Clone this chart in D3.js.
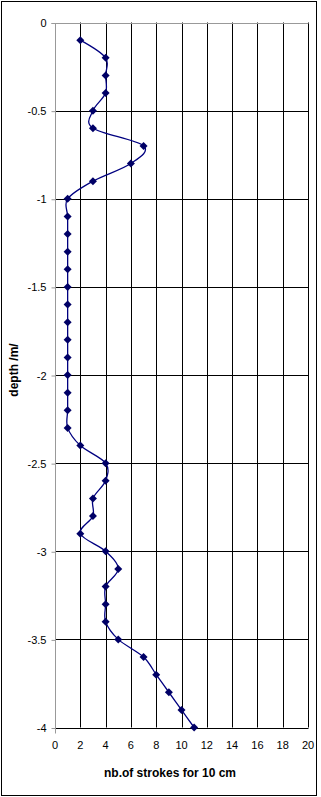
<!DOCTYPE html>
<html>
<head>
<meta charset="utf-8">
<script src="https://cdn.jsdelivr.net/npm/d3@7"></script>
<style>
  body { margin: 0; background: #fff; }
  svg { display: block; font-family: Arial, "Liberation Sans", sans-serif; }
</style>
</head>
<body>
<svg></svg>
<script>
const width = 321;
const height = 797;

// depth in m (negative down), strokes per 10 cm
const depths = [-0.1, -0.2, -0.3, -0.4, -0.5, -0.6, -0.7, -0.8, -0.9, -1.0,
  -1.1, -1.2, -1.3, -1.4, -1.5, -1.6, -1.7, -1.8, -1.9, -2.0,
  -2.1, -2.2, -2.3, -2.4, -2.5, -2.6, -2.7, -2.8, -2.9, -3.0,
  -3.1, -3.2, -3.3, -3.4, -3.5, -3.6, -3.7, -3.8, -3.9, -4.0];
const strokes = [2, 4, 4, 4, 3, 3, 7, 6, 3, 1,
  1, 1, 1, 1, 1, 1, 1, 1, 1, 1,
  1, 1, 1, 2, 4, 4, 3, 3, 2, 4,
  5, 4, 4, 4, 5, 7, 8, 9, 10, 11];
const xTicks = [0, 2, 4, 6, 8, 10, 12, 14, 16, 18, 20];
const yTicks = [0, -0.5, -1, -1.5, -2, -2.5, -3, -3.5, -4];

const data = depths.map((d, i) => ({ depth: d, value: strokes[i] }));

const plotLeft = 55, plotRight = 308, plotTop = 22.5, plotBottom = 727.5;

let svg = d3.select("svg")
    .attr("width", width)
    .attr("height", height);

svg.append("rect")
    .attr("x", 1.5).attr("y", 1.5)
    .attr("width", 315).attr("height", 794)
    .attr("fill", "#fff")
    .attr("stroke", "#000");

let xScale = d3.scaleLinear().domain([0, 20]).range([plotLeft, plotRight]);
let yScale = d3.scaleLinear().domain([0, -4]).range([plotTop, plotBottom]);

// grid
svg.append("g")
    .selectAll("line")
    .data(xTicks.slice(1))
    .join("line")
    .attr("x1", d => Math.round(xScale(d)) + 0.5)
    .attr("x2", d => Math.round(xScale(d)) + 0.5)
    .attr("y1", plotTop)
    .attr("y2", plotBottom)
    .attr("stroke", "#000");

svg.append("g")
    .selectAll("line")
    .data(yTicks.slice(1))
    .join("line")
    .attr("x1", plotLeft)
    .attr("x2", Math.round(plotRight) + 0.5)
    .attr("y1", d => Math.round(yScale(d)) + 0.5)
    .attr("y2", d => Math.round(yScale(d)) + 0.5)
    .attr("stroke", "#000");

// top border of plot area (gray)
svg.append("line")
    .attr("x1", plotLeft).attr("x2", Math.round(plotRight) + 0.5)
    .attr("y1", Math.round(plotTop) + 0.5).attr("y2", Math.round(plotTop) + 0.5)
    .attr("stroke", "#999");

// y axis
let yAxis = svg.append("g")
    .attr("transform", `translate(${plotLeft + 0.5},0.5)`)
    .call(d3.axisLeft(yScale).tickValues(yTicks).tickSize(4).tickPadding(5)
        .tickFormat(d => String(d)));
yAxis.select(".domain").attr("stroke", "#999")
    .attr("d", `M-4,${Math.round(plotTop)}H0V${Math.round(plotBottom) + 5}`);
yAxis.selectAll(".tick line").attr("stroke", "#999");
yAxis.selectAll("text").attr("fill", "#000").style("font-size", "11px");

// x axis labels (no line)
svg.append("g")
    .selectAll("text")
    .data(xTicks)
    .join("text")
    .attr("x", d => xScale(d))
    .attr("y", 749)
    .attr("text-anchor", "middle")
    .style("font-size", "11px")
    .text(d => d);

svg.append("text")
    .attr("x", 170)
    .attr("y", 777)
    .attr("text-anchor", "middle")
    .style("font-size", "12px")
    .style("font-weight", "bold")
    .text("nb.of strokes for 10 cm");

svg.append("text")
    .attr("transform", "rotate(-90)")
    .attr("x", -370)
    .attr("y", 18)
    .attr("text-anchor", "middle")
    .style("font-size", "12px")
    .style("font-weight", "bold")
    .text("depth /m/");

// smoothed line
let line = d3.line()
    .x(d => xScale(d.value))
    .y(d => yScale(d.depth))
    .curve(d3.curveCardinal.tension(0));

svg.append("path")
    .datum(data)
    .attr("d", line)
    .attr("fill", "none")
    .attr("stroke", "#000080")
    .attr("stroke-width", 1.3);

svg.append("g")
    .selectAll("path")
    .data(data)
    .join("path")
    .attr("transform", d => `translate(${xScale(d.value)},${yScale(d.depth)})`)
    .attr("d", "M0,-4L4,0L0,4L-4,0Z")
    .attr("fill", "#000066");
</script>
</body>
</html>
